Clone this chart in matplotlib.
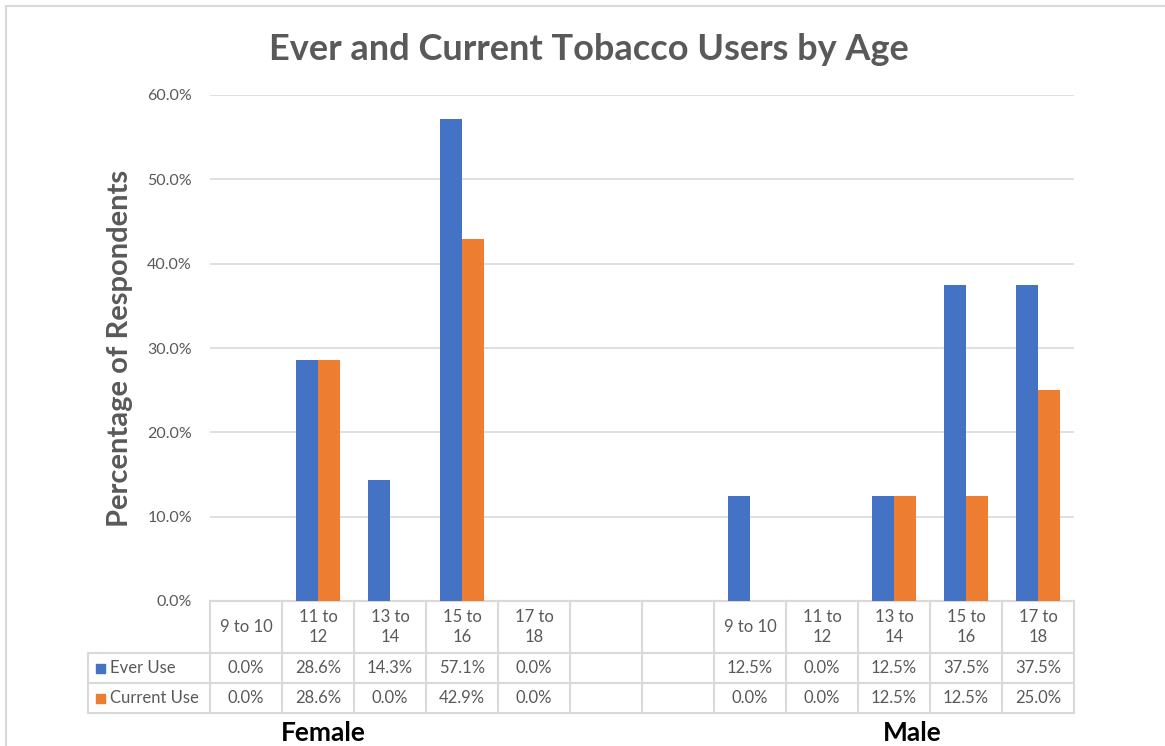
import matplotlib.pyplot as plt
from matplotlib.patches import Rectangle

plt.rcParams['font.family'] = ['Lato', 'DejaVu Sans']

# categories: 5 female age groups, two empty spacer columns, 5 male age groups
ages = ["9 to 10", "11 to\n12", "13 to\n14", "15 to\n16", "17 to\n18"]
categories = ages + ["", ""] + ["9 to 10"] + ages[1:]
groups = ["Female", "Male"]

ever_use = [0.0, 28.6, 14.3, 57.1, 0.0, None, None, 12.5, 0.0, 12.5, 37.5, 37.5]
current_use = [0.0, 28.6, 0.0, 42.9, 0.0, None, None, 0.0, 0.0, 12.5, 12.5, 25.0]
series = [("Ever Use", ever_use, "#4472C4"), ("Current Use", current_use, "#ED7D31")]

W, H = 1165, 746
fig = plt.figure(figsize=(W / 100, H / 100), dpi=100)

# outer chart border (Excel chart area)
fig.patches.append(Rectangle((6 / W, -0.05), 1.1, (H - 6) / H + 0.05,
                             transform=fig.transFigure, fill=False,
                             edgecolor="#d9d9d9", lw=1.5))

px_left, px_right, px_top, px_bottom = 210, 1074, 95, 601
ax = fig.add_axes([px_left / W, (H - px_bottom) / H,
                   (px_right - px_left) / W, (px_bottom - px_top) / H])

n = len(categories)
bw = 0.31
for k, (name, vals, color) in enumerate(series):
    xs = [i + (k - 0.5) * bw for i, v in enumerate(vals) if v]
    hs = [v for v in vals if v]
    ax.bar(xs, hs, width=bw, color=color, zorder=3)

ax.set_xlim(-0.5, n - 0.5)
ax.set_ylim(0, 60)
ax.set_yticks(range(0, 61, 10))
ax.set_yticklabels([f"{t:.1f}%" for t in range(0, 61, 10)], color="#595959", fontsize=11.5)
ax.tick_params(axis="y", length=0, pad=13)
ax.set_xticks([])
ax.grid(axis="y", color="#d9d9d9", lw=1.2, zorder=0)
for s in ["top", "right", "left"]:
    ax.spines[s].set_visible(False)
ax.spines["bottom"].set_color("#d9d9d9")
ax.spines["bottom"].set_linewidth(1.5)

fig.text(120 / W, 1 - 348 / H, "Percentage of Respondents", rotation=90,
         ha="center", va="center", fontsize=21, fontweight="bold", color="#595959")
fig.text(589 / W, 1 - 50 / H, "Ever and Current Tobacco Users by Age",
         ha="center", va="center", fontsize=26, fontweight="bold", color="#595959")

# data table under the axis
ph = px_bottom - px_top


def ya(ypix):
    return (px_bottom - ypix) / ph


grid_kw = dict(color="#d9d9d9", lw=1.5, clip_on=False, transform=ax.get_xaxis_transform())
rows_y = [601, 653, 683, 713]
for yp in rows_y:
    ax.plot([-0.5, n - 0.5], [ya(yp)] * 2, **grid_kw)
leg_x = -0.5 - (px_left - 88) / ((px_right - px_left) / n)
for yp in rows_y[1:]:
    ax.plot([leg_x, -0.5], [ya(yp)] * 2, **grid_kw)
ax.plot([leg_x, leg_x], [ya(653), ya(713)], **grid_kw)
for i in range(n + 1):
    ax.plot([i - 0.5, i - 0.5], [ya(601), ya(713)], **grid_kw)

tr = ax.get_xaxis_transform()
fs = 12
for i, c in enumerate(categories):
    ax.text(i, ya(627), c, ha="center", va="center", fontsize=fs,
            color="#595959", transform=tr, linespacing=1.25)
for k, (name, vals, color) in enumerate(series):
    yc = ya(668 + 30 * k)
    for i, v in enumerate(vals):
        if v is not None:
            ax.text(i, yc, f"{v:.1f}%", ha="center", va="center", fontsize=fs,
                    color="#595959", transform=tr)
    fig.patches.append(Rectangle((96 / W, (H - 668 - 30 * k - 5) / H), 9 / W, 9 / H,
                                 transform=fig.transFigure, color=color))
    fig.text(110 / W, 1 - (668 + 30 * k) / H, name, ha="left", va="center",
             fontsize=fs, color="#595959")

ax.text(1.08, ya(733), groups[0], ha="center", va="center", fontsize=19,
        fontweight="bold", color="black", transform=tr)
ax.text(9.25, ya(733), groups[1], ha="center", va="center", fontsize=19,
        fontweight="bold", color="black", transform=tr)

fig.savefig("out.png", dpi=100)
